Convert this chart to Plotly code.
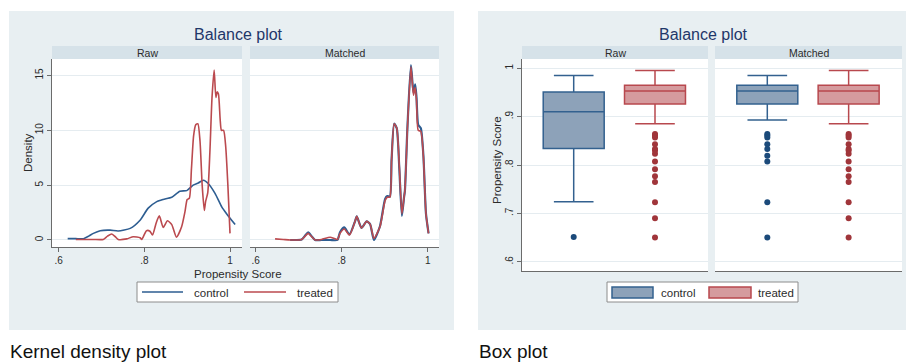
import plotly.graph_objects as go

W, H = 906, 363

# ---------------- data: kernel density ----------------
raw_control_x = [0.621, 0.640, 0.658, 0.670, 0.681, 0.697, 0.720, 0.739, 0.767, 0.790, 0.809, 0.829,
                 0.844, 0.864, 0.883, 0.899, 0.914, 0.926, 0.938, 0.949, 0.965, 0.981, 0.992, 1.012]
raw_control_d = [0.12, 0.12, 0.12, 0.35, 0.60, 0.85, 0.90, 0.82, 1.06, 1.80, 2.90, 3.50,
                 3.70, 3.90, 4.45, 4.50, 5.00, 5.20, 5.45, 5.15, 4.25, 3.00, 2.40, 1.40]

raw_treated_x = [0.640, 0.680, 0.704, 0.714, 0.724, 0.732, 0.739, 0.759, 0.774, 0.790, 0.794, 0.805,
                 0.813, 0.819, 0.828, 0.835, 0.844, 0.854, 0.864, 0.875, 0.887, 0.895, 0.900, 0.905,
                 0.910, 0.915, 0.920, 0.925, 0.930, 0.935, 0.940, 0.943, 0.948, 0.953, 0.958, 0.963,
                 0.967, 0.970, 0.973, 0.977, 0.980, 0.985, 0.990, 0.995, 1.000]
raw_treated_d = [0.05, 0.05, 0.05, 0.35, 0.55, 0.30, 0.05, 0.10, 0.30, 0.20, 0.05, 0.85,
                 0.80, 0.45, 1.60, 2.20, 1.15, 1.75, 1.40, 0.25, 1.20, 2.60, 3.70, 3.80,
                 6.50, 9.50, 10.50, 10.60, 9.00, 5.00, 2.70, 3.50, 4.30, 8.00, 13.00, 15.50,
                 13.00, 13.50, 13.30, 11.00, 10.00, 10.00, 8.50, 5.00, 0.60]

matched_treated_x = [0.645, 0.664, 0.680, 0.707, 0.715, 0.722, 0.730, 0.738, 0.753, 0.773, 0.790, 0.796,
                     0.806, 0.818, 0.831, 0.835, 0.846, 0.858, 0.866, 0.875, 0.889, 0.901, 0.906, 0.912,
                     0.916, 0.922, 0.928, 0.934, 0.940, 0.945, 0.947, 0.953, 0.961, 0.967, 0.971, 0.974,
                     0.978, 0.984, 0.990, 0.996, 1.002]
matched_treated_d = [0.10, 0.05, 0.00, 0.05, 0.35, 0.60, 0.30, 0.00, 0.05, 0.25, 0.05, 0.60,
                     1.00, 0.45, 1.70, 2.15, 1.10, 1.70, 1.45, 0.15, 1.20, 3.60, 3.90, 3.90,
                     7.30, 10.60, 10.20, 6.70, 2.40, 3.90, 4.50, 10.30, 15.80, 13.20, 13.90, 12.70,
                     10.00, 9.90, 7.60, 2.40, 0.60]

matched_control_x = [0.680, 0.707, 0.715, 0.722, 0.730, 0.738, 0.753, 0.773, 0.790, 0.796,
                     0.806, 0.818, 0.831, 0.835, 0.846, 0.858, 0.866, 0.875, 0.889, 0.901, 0.906, 0.912,
                     0.916, 0.922, 0.928, 0.934, 0.940, 0.945, 0.947, 0.953, 0.961, 0.967, 0.971, 0.974,
                     0.978, 0.984, 0.990, 0.996, 1.002]
matched_control_d = [0.00, 0.05, 0.40, 0.70, 0.35, 0.00, 0.00, 0.00, 0.00, 0.70,
                     1.15, 0.50, 1.70, 2.15, 1.10, 1.70, 1.45, 0.00, 1.25, 3.75, 4.00, 3.95,
                     7.30, 10.60, 10.20, 6.50, 2.20, 3.90, 4.50, 10.40, 15.95, 13.40, 14.20, 13.00,
                     10.50, 10.20, 7.70, 2.40, 0.60]

# ---------------- data: box plot summaries ----------------
box_groups = ["control", "treated"]
raw_lowerfence = [0.724, 0.885]
raw_q1 = [0.834, 0.926]
raw_median = [0.910, 0.953]
raw_q3 = [0.951, 0.965]
raw_upperfence = [0.985, 0.995]
raw_control_out = [0.651]
raw_treated_out = [0.864, 0.861, 0.857, 0.843, 0.833, 0.830, 0.823, 0.807, 0.791, 0.777, 0.765,
                   0.723, 0.690, 0.650]

m_lowerfence = [0.893, 0.885]
m_q1 = [0.926, 0.926]
m_median = [0.953, 0.953]
m_q3 = [0.965, 0.965]
m_upperfence = [0.985, 0.995]
m_control_out = [0.864, 0.861, 0.857, 0.843, 0.833, 0.819, 0.807, 0.723, 0.650]
m_treated_out = [0.864, 0.861, 0.857, 0.843, 0.833, 0.830, 0.823, 0.807, 0.791, 0.777, 0.765,
                 0.723, 0.690, 0.650]

kde_xticks = [0.6, 0.8, 1.0]
kde_xticktext = [".6", ".8", "1"]
kde_yticks = [0, 5, 10, 15]
box_yticks = [0.6, 0.7, 0.8, 0.9, 1.0]
box_yticktext = [".6", ".7", ".8", ".9", "1"]

# ---------------- styles ----------------
BG = "#e8eff2"
STRIP = "#d6e2e9"
GRID = "#e5ecf0"
AXIS = "#6b6b6b"
TXT = "#2b2b2b"
TITLE = "#1f3769"
BLUE = "#2d5d91"
RED = "#bb4a4f"
C_FILL = "#8da2b9"
C_LINE = "#33618f"
T_FILL = "#d59b9e"
T_LINE = "#b8484e"
C_DOT = "#1b4a7a"
T_DOT = "#a0353a"
FONT = "Liberation Sans, Arial, sans-serif"
NARROW = "Liberation Sans Narrow, Arial Narrow, Liberation Sans, sans-serif"


def fx(px):
    return px / W


def fy(py):
    return 1 - py / H


def dom_x(a, b):
    return [fx(a), fx(b)]


def dom_y(top, bot):
    return [fy(bot), fy(top)]


fig = go.Figure()

# KDE traces
fig.add_trace(go.Scatter(x=raw_control_x, y=raw_control_d, mode="lines", line=dict(color=BLUE, width=1.6, shape="spline", smoothing=0.6),
                         xaxis="x", yaxis="y", showlegend=False, hoverinfo="skip"))
fig.add_trace(go.Scatter(x=raw_treated_x, y=raw_treated_d, mode="lines", line=dict(color=RED, width=1.6, shape="spline", smoothing=0.6),
                         xaxis="x", yaxis="y", showlegend=False, hoverinfo="skip"))
fig.add_trace(go.Scatter(x=matched_control_x, y=matched_control_d, mode="lines", line=dict(color=BLUE, width=2.2, shape="spline", smoothing=0.6),
                         xaxis="x2", yaxis="y2", showlegend=False, hoverinfo="skip"))
fig.add_trace(go.Scatter(x=matched_treated_x, y=matched_treated_d, mode="lines", line=dict(color=RED, width=1.6, shape="spline", smoothing=0.6),
                         xaxis="x2", yaxis="y2", showlegend=False, hoverinfo="skip"))

# Box traces
def add_boxes(xa, ya, lf, q1, med, q3, uf, c_out, t_out):
    for i, (fill, line, dot, outs) in enumerate([(C_FILL, C_LINE, C_DOT, c_out), (T_FILL, T_LINE, T_DOT, t_out)]):
        fig.add_trace(go.Box(x=[i], q1=[q1[i]], median=[med[i]], q3=[q3[i]], lowerfence=[lf[i]], upperfence=[uf[i]],
                             width=0.75, whiskerwidth=0.65, fillcolor=fill, line=dict(color=line, width=1.5),
                             boxpoints=False, xaxis=xa, yaxis=ya, showlegend=False, name=box_groups[i], hoverinfo="skip"))
        fig.add_trace(go.Scatter(x=[i] * len(outs), y=outs, mode="markers", marker=dict(color=dot, size=6),
                                 xaxis=xa, yaxis=ya, showlegend=False, hoverinfo="skip"))


add_boxes("x3", "y3", raw_lowerfence, raw_q1, raw_median, raw_q3, raw_upperfence, raw_control_out, raw_treated_out)
add_boxes("x4", "y4", m_lowerfence, m_q1, m_median, m_q3, m_upperfence, m_control_out, m_treated_out)

tickfont = dict(family=FONT, size=10, color=TXT)
common_x = dict(showgrid=False, zeroline=False, showline=True, linecolor=AXIS, linewidth=1, mirror=False,
                tickfont=tickfont)
common_y = dict(showgrid=True, gridcolor=GRID, gridwidth=1, zeroline=False, tickfont=tickfont)

kde_yrange = [-0.64, 16.5]
box_yrange = [0.581, 1.019]

fig.update_layout(
    width=W, height=H, margin=dict(l=0, r=0, t=0, b=0),
    paper_bgcolor="white", plot_bgcolor="rgba(0,0,0,0)", showlegend=False,
    xaxis=dict(domain=dom_x(52, 242), range=[0.5844, 1.028], tickvals=kde_xticks, ticktext=kde_xticktext,
               ticks="outside", ticklen=4, tickcolor=AXIS, anchor="y", **common_x),
    yaxis=dict(domain=dom_y(59, 247), range=kde_yrange, tickvals=kde_yticks, tickangle=-90,
               showline=True, linecolor=AXIS, linewidth=1, ticks="outside", ticklen=4, tickcolor=AXIS,
               anchor="x", **common_y),
    xaxis2=dict(domain=dom_x(250, 439), range=[0.5867, 1.0263], tickvals=kde_xticks, ticktext=kde_xticktext,
                ticks="outside", ticklen=4, tickcolor=AXIS, anchor="y2", **common_x),
    yaxis2=dict(domain=dom_y(59, 247), range=kde_yrange, tickvals=kde_yticks, showticklabels=False,
                showline=False, ticks="", anchor="x2", **common_y),
    xaxis3=dict(domain=dom_x(522, 708), range=[-0.636, 1.652], showticklabels=False, ticks="", anchor="y3",
                **common_x),
    yaxis3=dict(domain=dom_y(59, 271), range=box_yrange, tickvals=box_yticks, ticktext=box_yticktext,
                tickangle=-90, showline=True, linecolor=AXIS, linewidth=1, ticks="outside", ticklen=4,
                tickcolor=AXIS, anchor="x3", **common_y),
    xaxis4=dict(domain=dom_x(715, 902), range=[-0.643, 1.656], showticklabels=False, ticks="", anchor="y4",
                **common_x),
    yaxis4=dict(domain=dom_y(59, 271), range=box_yrange, tickvals=box_yticks, showticklabels=False,
                showline=False, ticks="", anchor="x4", **common_y),
)

shapes = []


def rect(x0, y0, x1, y1, fill, line=None, lw=0, layer="below"):
    shapes.append(dict(type="rect", xref="paper", yref="paper", x0=fx(x0), x1=fx(x1), y0=fy(y1), y1=fy(y0),
                       fillcolor=fill, line=dict(color=line or fill, width=lw), layer=layer))


# panel backgrounds
rect(9, 11, 454, 330, BG)
rect(478, 11, 906, 330, BG)
# plot areas (white) and strips
for (a, b, bot) in [(52, 242, 247), (250, 439, 247), (522, 708, 271), (715, 902, 271)]:
    rect(a, 59, b, bot, "white")
    rect(a, 46, b, 59, STRIP)

# legends (drawn boxes)
rect(137, 282, 338, 302, "white", "#8c8c8c", 1)
rect(607, 282, 798, 302, "white", "#8c8c8c", 1)
shapes.append(dict(type="line", xref="paper", yref="paper", x0=fx(142), x1=fx(183), y0=fy(292), y1=fy(292),
                   line=dict(color=BLUE, width=1.6)))
shapes.append(dict(type="line", xref="paper", yref="paper", x0=fx(244), x1=fx(286), y0=fy(292), y1=fy(292),
                   line=dict(color=RED, width=1.6)))
rect(612, 287, 653, 298, C_FILL, C_LINE, 1.5, layer="above")
rect(709, 287, 751, 298, T_FILL, T_LINE, 1.5, layer="above")

fig.update_layout(shapes=shapes)

ann = []


def text(x, y, s, size=11, color=TXT, xanchor="center", angle=0, family=FONT):
    ann.append(dict(x=fx(x), y=fy(y), xref="paper", yref="paper", text=s, showarrow=False, xanchor=xanchor,
                    yanchor="middle", textangle=angle, font=dict(family=family, size=size, color=color)))


text(238, 34, "Balance plot", size=16, color=TITLE)
text(703, 34, "Balance plot", size=16, color=TITLE)
text(147, 53, "Raw", size=10.5)
text(344.5, 53, "Matched", size=10.5)
text(615, 53, "Raw", size=10.5)
text(808.5, 53, "Matched", size=10.5)
text(238, 274, "Propensity Score", size=11.5)
text(28, 153, "Density", size=11.5, angle=-90)
text(497, 160, "Propensity Score", size=11.5, angle=-90)
text(192, 293, "control", size=11.5, xanchor="left")
text(295, 293, "treated", size=11.5, xanchor="left")
text(659, 293, "control", size=11.5, xanchor="left")
text(756, 293, "treated", size=11.5, xanchor="left")
text(8, 351, "Kernel density plot", size=19, color="#111111", xanchor="left", family=NARROW)
text(477, 351, "Box plot", size=19, color="#111111", xanchor="left", family=NARROW)

fig.update_layout(annotations=ann)

fig.write_html("out.html", config={"displayModeBar": False},
               post_script="document.body.style.margin='0';document.body.style.padding='0';document.body.style.overflow='hidden';")
